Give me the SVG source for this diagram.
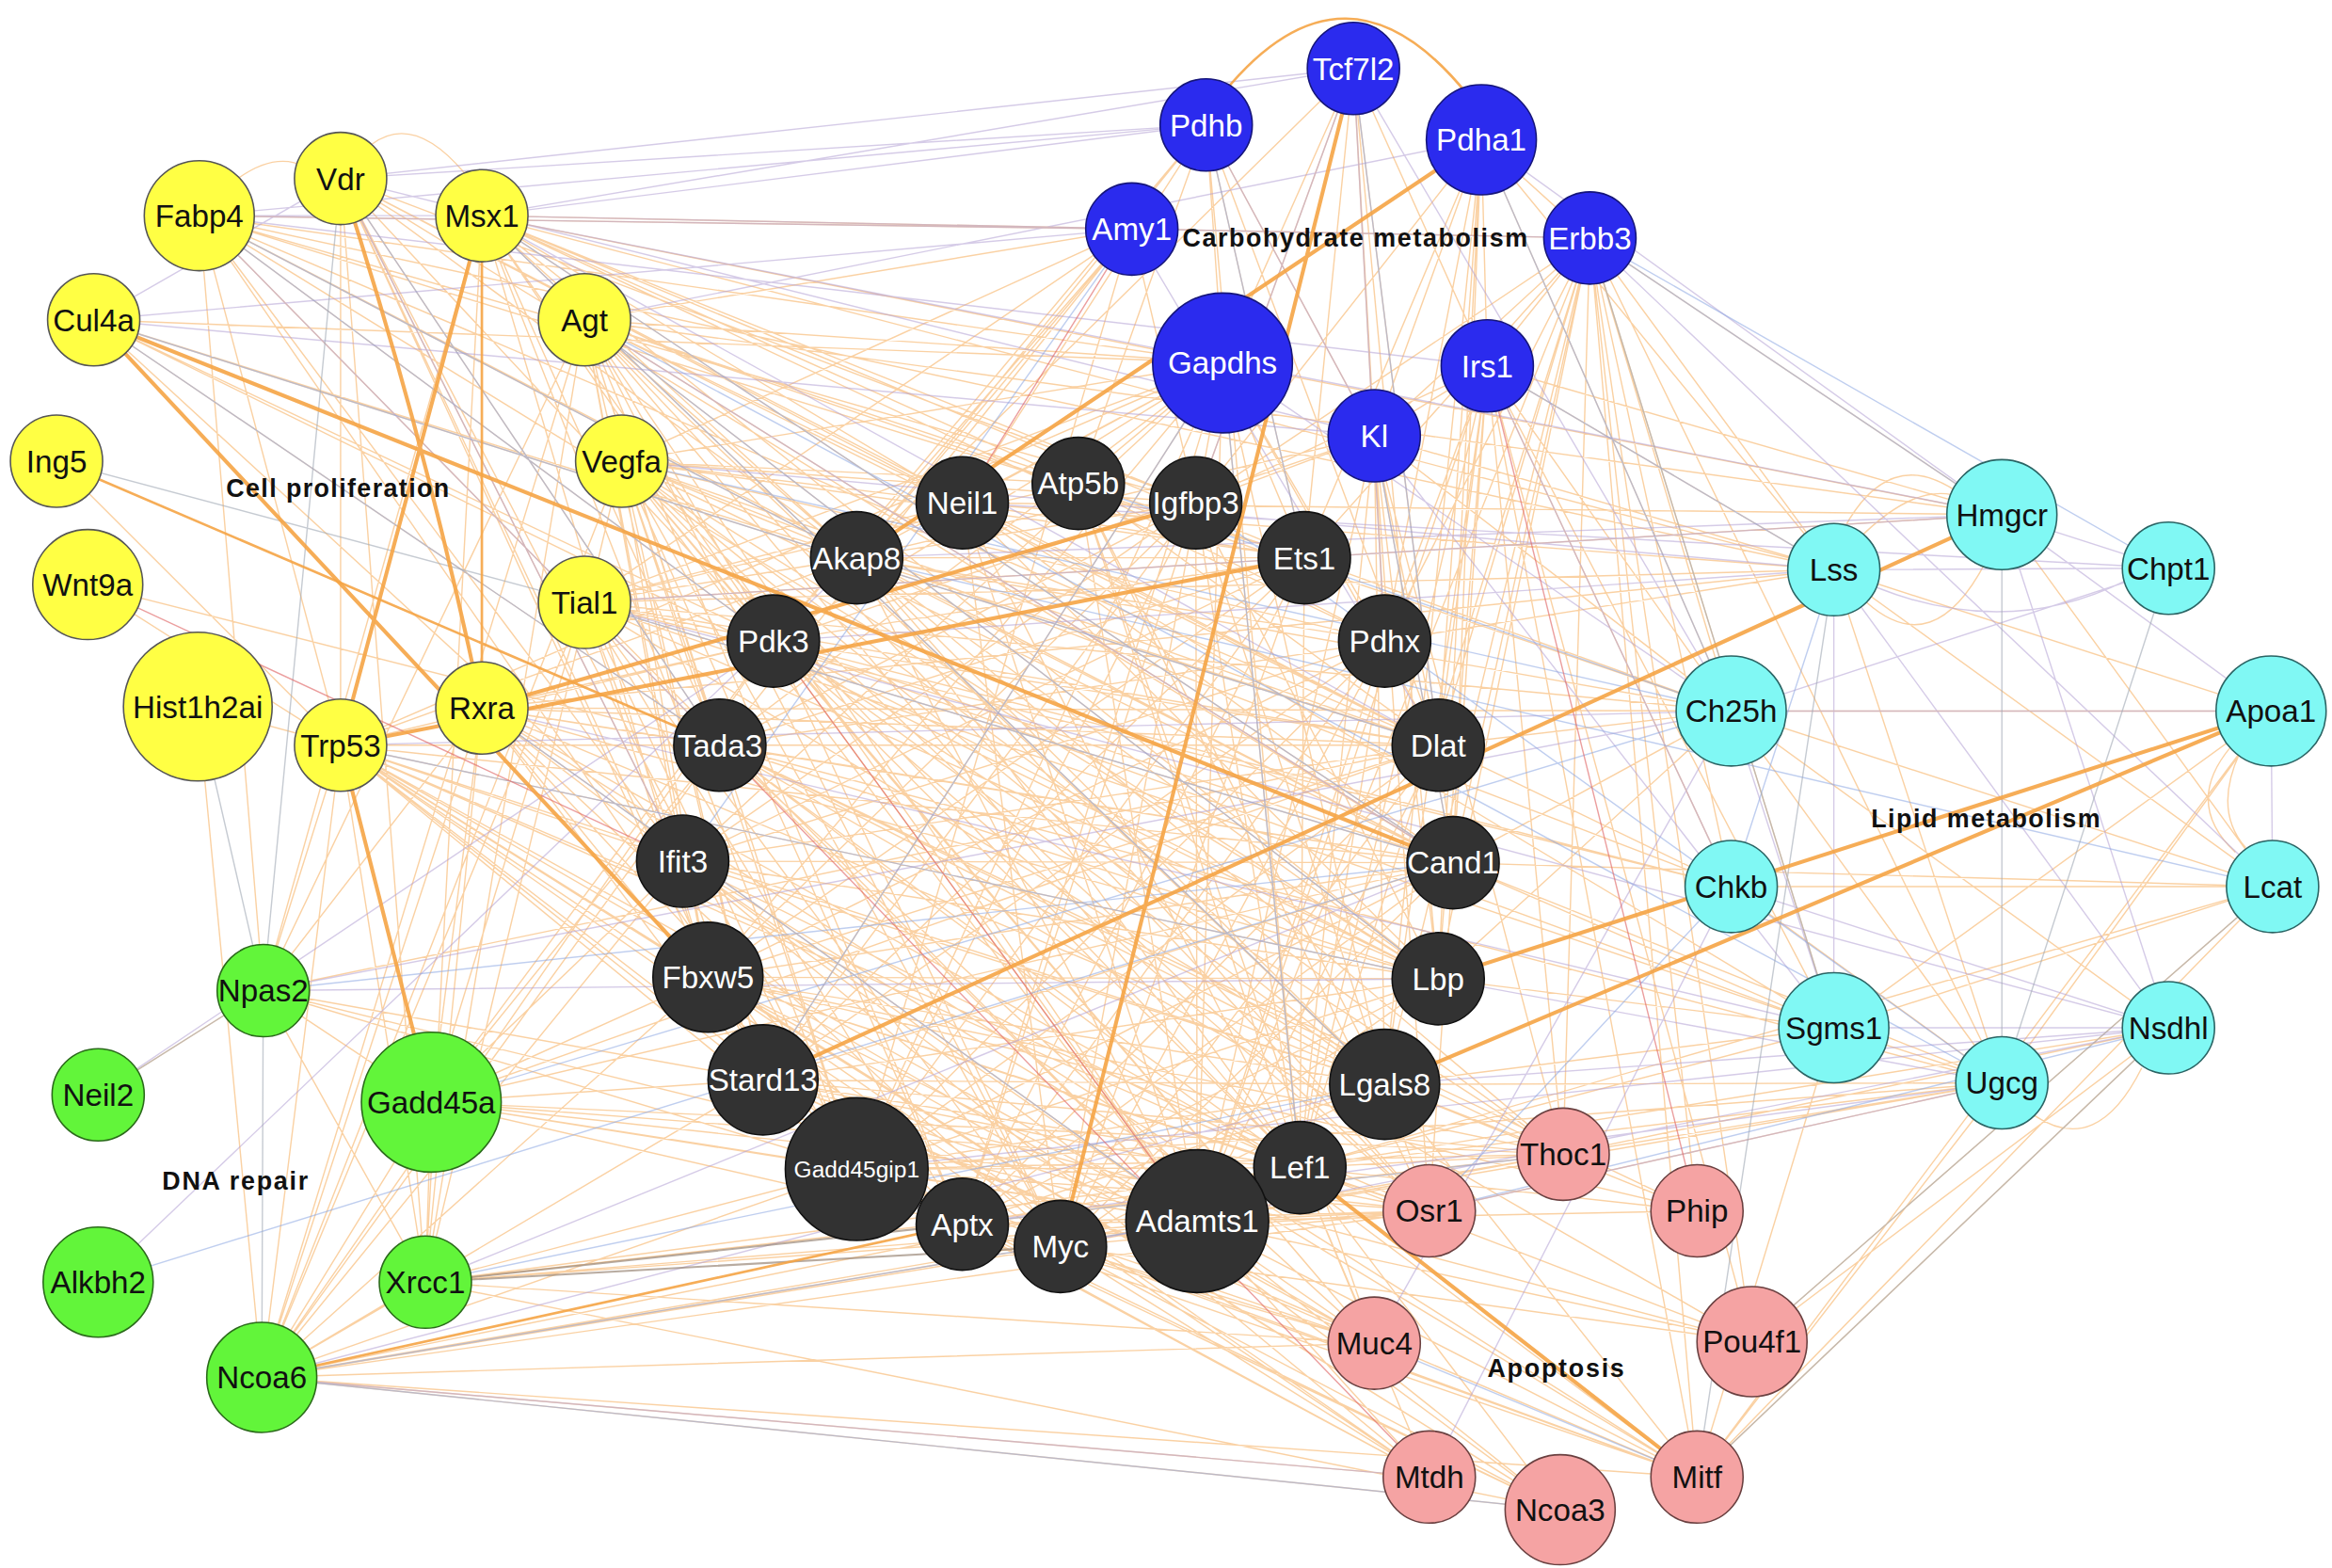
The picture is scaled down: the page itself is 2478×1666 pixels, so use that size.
<svg xmlns="http://www.w3.org/2000/svg" width="2478" height="1666" viewBox="0 0 2478 1666">
<style>
.o{stroke:#f7b266;stroke-width:0.9;fill:none;opacity:0.6}
.v{stroke:#b3a0d4;stroke-width:0.9;fill:none;opacity:0.55}
.b{stroke:#8aa6e2;stroke-width:0.9;fill:none;opacity:0.55}
.g{stroke:#a0a8b4;stroke-width:0.9;fill:none;opacity:0.6}
.d{stroke:#9a8878;stroke-width:1.3;fill:none;opacity:0.7}
.r{stroke:#e06a6a;stroke-width:0.9;fill:none;opacity:0.65}
.t{stroke:#f5a445;stroke-width:2.6;fill:none;opacity:0.9}
.m{stroke:#f5a445;stroke-width:1.7;fill:none;opacity:0.9}
.ny{fill:#ffff44;stroke:#555;stroke-width:1}
.nb{fill:#2b2bee;stroke:#15157a;stroke-width:1}
.nk{fill:#323232;stroke:#111;stroke-width:1}
.nc{fill:#80f8f4;stroke:#2a6464;stroke-width:1}
.np{fill:#f5a3a3;stroke:#6a4040;stroke-width:1}
.ng{fill:#62f53a;stroke:#2a6a1a;stroke-width:1}
text{font-family:"Liberation Sans",Arial,sans-serif;text-anchor:middle}
.lw{fill:#fff;font-size:21px}
.lb{fill:#111;font-size:21px}
.grp{fill:#111;font-size:17px;font-weight:bold}
</style>
<rect width="2478" height="1666" fill="#fff"/>
<g transform="scale(1.5804)">
<g id="connectors">
<path class="o" d="M134 145 576 375M134 145 520 431M134 145 484 501M134 145 804 338M134 145 967 501M134 145 977 580M134 145 967 658M134 145 229 501M134 145 177 666M134 145 1233 383M134 145 576 786M134 145 459 579M134 145 877 375
M229 120 520 431M229 120 576 375M229 120 647 338M229 120 484 501M229 120 459 579M229 120 476 657M229 120 229 501M229 120 286 862M229 120 576 786M229 120 513 726M229 120 977 580M229 120 967 501M229 120 804 338
M324 145 576 375M324 145 647 338M324 145 725 325M324 145 804 338M324 145 877 375M324 145 931 431M324 145 977 580M324 145 967 658M324 145 484 501M324 145 520 431M324 145 1233 383M324 145 476 657M324 145 931 729M324 145 805 821M324 145 576 786M324 145 1069 160
M63 215 520 431M63 215 484 501M63 215 576 375M63 215 459 579M63 215 967 658M63 215 967 501
M393 215 576 375M393 215 647 338M393 215 520 431M393 215 484 501M393 215 459 579M393 215 476 657M393 215 513 726M393 215 576 786M393 215 647 823M393 215 713 838M393 215 805 821M393 215 874 785M393 215 967 501M393 215 977 580M393 215 967 658M393 215 931 729M393 215 877 375M393 215 1346 346M393 215 961 814M393 215 1164 478
M38 310 229 501
M418 310 576 375M418 310 647 338M418 310 725 325M418 310 804 338M418 310 877 375M418 310 520 431M418 310 931 431M418 310 967 501M418 310 977 580M418 310 967 658M418 310 931 729M418 310 874 785M418 310 805 821M418 310 713 838M418 310 647 823M418 310 576 786M418 310 513 726M418 310 476 657M418 310 484 501M418 310 1164 596M418 310 961 814M418 310 1051 776M418 310 924 903
M59 393 229 501M59 393 484 501
M393 405 576 375M393 405 647 338M393 405 725 325M393 405 804 338M393 405 877 375M393 405 520 431M393 405 967 501M393 405 977 580M393 405 967 658M393 405 931 729M393 405 476 657M393 405 513 726M393 405 576 786M393 405 647 823M393 405 713 838M393 405 805 821M393 405 1233 383M393 405 1164 478M393 405 1164 596M393 405 1233 691
M133 475 229 501M133 475 176 926
M229 501 576 375M229 501 520 431M229 501 484 501M229 501 459 579M229 501 476 657M229 501 513 726M229 501 576 786M229 501 647 823M229 501 713 838M229 501 805 821M229 501 874 785M229 501 931 729M229 501 967 501M229 501 977 580M229 501 967 658M229 501 177 666M229 501 286 862M229 501 176 926M229 501 961 814M229 501 924 903M229 501 822 244M229 501 961 993M229 501 1049 1015
M324 476 520 431M324 476 484 501M324 476 459 579M324 476 513 726M324 476 576 786M324 476 647 823M324 476 713 838M324 476 805 821M324 476 967 501M324 476 977 580M324 476 967 658M324 476 931 729M324 476 874 785M324 476 1164 478M324 476 1233 383M324 476 177 666M324 476 290 741M324 476 286 862M324 476 176 926M324 476 1141 993
M910 46 924 293M910 46 1000 246M910 46 822 244M910 46 931 431M910 46 967 501M910 46 804 338M910 46 877 375M910 46 576 375M910 46 977 580M910 46 967 658
M811 84 822 244M811 84 725 325M811 84 647 338M811 84 576 375M811 84 520 431M811 84 877 375M811 84 924 293M811 84 967 501M811 84 874 785
M996 94 924 293M996 94 931 431M996 94 967 501M996 94 1000 246M996 94 877 375M996 94 804 338M996 94 977 580M996 94 967 658M996 94 931 729M996 94 1233 383M996 94 1164 478M996 94 1069 160
M761 154 576 375M761 154 520 431M761 154 484 501M761 154 134 145M761 154 324 145M761 154 393 215M761 154 418 310M761 154 393 405M761 154 804 338M761 154 576 786
M1069 160 1000 246M1069 160 924 293M1069 160 931 431M1069 160 967 501M1069 160 977 580M1069 160 967 658M1069 160 931 729M1069 160 874 785M1069 160 1164 478M1069 160 1164 596M1069 160 1233 383M1069 160 1346 346M1069 160 1233 691M1069 160 1346 728M1069 160 1051 776M1069 160 1141 814M1069 160 1178 902M1069 160 877 375M1069 160 804 338M1069 160 805 821M1069 160 1141 993
M822 244 576 375M822 244 647 338M822 244 725 325M822 244 520 431M822 244 484 501M822 244 459 579M822 244 476 657M822 244 513 726M822 244 576 786M822 244 647 823M822 244 713 838M822 244 805 821M822 244 874 785M822 244 931 729M822 244 967 501M822 244 931 431M822 244 877 375M822 244 324 145M822 244 393 215M822 244 418 310M822 244 393 405M822 244 134 145M822 244 63 215M822 244 1346 346
M1000 246 924 293M1000 246 931 431M1000 246 967 501M1000 246 977 580M1000 246 967 658M1000 246 931 729M1000 246 874 785M1000 246 805 821M1000 246 1164 478M1000 246 1164 596M1000 246 1233 383M1000 246 1346 346M1000 246 1233 691M1000 246 1051 776M1000 246 1141 993M1000 246 1178 902M1000 246 961 814M1000 246 804 338
M924 293 931 431M924 293 967 501M924 293 977 580M924 293 967 658M924 293 931 729M924 293 874 785M924 293 805 821M924 293 804 338M924 293 576 375M924 293 520 431M924 293 1164 478M924 293 1233 383M924 293 1051 776M924 293 961 814
M576 375 877 375M576 375 931 431M576 375 967 501M576 375 977 580M576 375 967 658M576 375 931 729M576 375 874 785M576 375 805 821M576 375 1051 776M576 375 961 814M576 375 1164 478
M647 338 877 375M647 338 967 501M647 338 977 580M647 338 967 658M647 338 874 785M647 338 805 821M647 338 713 838M647 338 1233 383M647 338 1346 346M647 338 1233 691
M725 325 931 431M725 325 967 501M725 325 931 729M725 325 874 785M725 325 805 821M725 325 961 814M725 325 924 903
M804 338 805 821M804 338 874 785M804 338 931 729M804 338 967 658M804 338 484 501M804 338 459 579M804 338 476 657M804 338 513 726M804 338 576 786M804 338 647 823
M877 375 576 786M877 375 647 823M877 375 713 838M877 375 513 726M877 375 476 657M877 375 459 579M877 375 484 501M877 375 520 431M877 375 874 785M877 375 1164 478M877 375 1346 346
M520 431 967 501M520 431 977 580M520 431 967 658M520 431 931 729M520 431 874 785M520 431 805 821M520 431 713 838M520 431 1051 776M520 431 961 814M520 431 924 903M520 431 1164 596M520 431 1233 691
M931 431 484 501M931 431 459 579M931 431 476 657M931 431 513 726M931 431 576 786M931 431 647 823M931 431 713 838M931 431 805 821M931 431 874 785M931 431 1233 383
M484 501 967 501M484 501 977 580M484 501 967 658M484 501 931 729M484 501 874 785M484 501 805 821M484 501 1141 993M484 501 1178 902M484 501 1051 776M484 501 1141 814M484 501 924 903M484 501 1346 728
M967 501 459 579M967 501 476 657M967 501 576 786M967 501 647 823M967 501 713 838M967 501 805 821M967 501 1164 478M967 501 1164 596
M459 579 977 580M459 579 967 658M459 579 931 729M459 579 874 785M459 579 805 821M459 579 961 993M459 579 1049 1015M459 579 1141 993
M977 580 476 657M977 580 513 726M977 580 576 786M977 580 647 823M977 580 713 838M977 580 1164 478M977 580 1233 691M977 580 1346 728M977 580 1528 596
M476 657 967 658M476 657 931 729M476 657 874 785M476 657 805 821M476 657 1051 776M476 657 961 814M476 657 924 903M476 657 961 993M476 657 1049 1015M476 657 1141 814
M967 658 513 726M967 658 576 786M967 658 647 823M967 658 713 838M967 658 1164 478M967 658 1233 691
M513 726 931 729M513 726 874 785M513 726 805 821M513 726 1051 776M513 726 961 814M513 726 924 903M513 726 1141 993M513 726 1178 902
M931 729 576 786M931 729 647 823M931 729 713 838M931 729 1233 691M931 729 1346 728M931 729 1051 776M931 729 961 814M931 729 1141 814M931 729 1141 993
M576 786 874 785M576 786 805 821M576 786 1051 776M576 786 961 814M576 786 924 903M576 786 961 993M576 786 1049 1015M576 786 1141 993M576 786 1346 728
M874 785 647 823M874 785 1049 1015M874 785 961 993M874 785 1178 902M874 785 1141 814M874 785 1051 776M874 785 961 814M874 785 924 903M874 785 1346 728M874 785 1458 691M874 785 1528 596M874 785 1233 691
M647 823 805 821M647 823 1051 776M647 823 961 814M647 823 924 903M647 823 961 993M647 823 1049 1015M647 823 1141 993
M713 838 1051 776M713 838 961 814M713 838 924 903M713 838 961 993M713 838 1049 1015M713 838 1141 993M713 838 1178 902
M805 821 1051 776M805 821 961 814M805 821 924 903M805 821 961 993M805 821 1049 1015M805 821 1141 993M805 821 1178 902M805 821 1141 814M805 821 1346 728
M1164 478 1527 478M1164 478 1528 596M1233 383 1527 478M1233 383 1528 596M1346 346 1528 596M1233 691 1346 728M1164 596 1346 728M1164 596 1528 596M1164 478 1346 728M1233 383 1346 728M1527 478 1346 728M1346 728 1051 776M1346 728 961 814M1346 728 1141 993M1458 691 1141 993M1458 691 1178 902M1528 596 1178 902M1528 596 1141 993M1458 691 1051 776M1527 478 1141 993M1233 691 1141 993M1527 478 1233 691M1528 596 1233 691M1164 478 1458 691
M177 666 66 736M177 666 286 862M177 666 290 741M177 666 324 145M177 666 393 215M177 666 513 726M177 666 576 786M177 666 967 501M177 666 805 821
M176 926 286 862M176 926 290 741M176 926 229 501M176 926 324 476M176 926 393 215M176 926 418 310M176 926 393 405M176 926 520 431M176 926 484 501M176 926 459 579M176 926 476 657M176 926 513 726M176 926 576 786M176 926 713 838M176 926 805 821M176 926 874 785M176 926 961 993M176 926 1049 1015M176 926 1141 993M176 926 924 903M176 926 961 814M176 926 1051 776
M286 862 290 741M286 862 324 476M286 862 393 215M286 862 418 310M286 862 324 145M286 862 805 821M286 862 576 786M286 862 874 785M286 862 1051 776M286 862 961 814M286 862 924 903M286 862 1049 1015
M290 741 484 501M290 741 459 579M290 741 476 657M290 741 513 726M290 741 576 786M290 741 647 823M290 741 805 821M290 741 874 785M290 741 1051 776M290 741 961 814M290 741 967 501M290 741 977 580M290 741 520 431M290 741 393 405
M250 97Q278 76 312 116M160 120Q185 102 205 112M1240 355Q1270 300 1315 330M1250 362Q1290 322 1320 335M1255 405Q1300 445 1335 378M1500 502Q1468 540 1503 573M1506 506Q1488 545 1510 570M1368 750Q1410 778 1440 718"/>
<path class="v" d="M324 145 910 46M324 145 811 84M134 145 811 84M229 120 811 84M63 215 761 154M324 145 1069 160M393 215 996 94M134 145 1000 246M229 120 924 293M63 215 924 293M418 310 1233 383M393 405 1346 346M324 145 1346 346M1346 346 1458 382M1233 383 1458 382M1164 478 1527 478M1346 346 1527 478M1527 478 1528 596M1233 691 1458 691M1164 596 1458 691M967 658 1346 728M931 729 1458 691M520 431 1233 383M576 375 1346 346M647 338 1458 382M910 46 804 338M910 46 931 431M811 84 924 293M761 154 967 501M1069 160 1528 596M1000 246 1164 596M924 293 1233 691M66 736 520 431M177 666 967 658M66 862 576 375M176 926 931 729M286 862 977 580M576 786 1458 691M647 823 1346 728M713 838 1458 691M961 993 1164 596M924 903 1164 478M961 814 1346 728M134 145 484 501M229 120 459 579M324 145 967 501M393 215 977 580M229 501 1164 478M324 476 1233 691M393 405 1458 691M822 244 1164 478M996 94 1346 346M910 46 1164 478M1164 478 1233 691M1233 383 1458 691M1346 346 1458 691M1458 382 1164 478M1233 383 1233 691M177 666 1164 478M176 926 961 993M134 145 324 145M63 215 229 120M229 120 910 46M134 145 761 154M1262 395Q1350 430 1430 390"/>
<path class="b" d="M134 145 576 375M134 145 520 431M229 120 484 501M324 145 977 580M63 215 967 501M393 215 967 658M393 405 977 580M229 501 967 658M324 476 805 821M822 244 874 785M1069 160 1346 346M1000 246 1233 383M811 84 877 375M924 293 977 580M804 338 1346 728M725 325 1164 478M66 862 977 580M177 666 977 580M176 926 805 821M286 862 931 729M1164 596 961 814M996 94 1164 478M910 46 967 501M576 375 1528 596M961 814 1458 691M1051 776 647 823M63 215 484 501M324 145 931 729M393 215 1346 728M418 310 1164 478M822 244 513 726M761 154 459 579M1069 160 1458 382M1233 383 1164 596M290 741 1164 478M176 926 1049 1015M924 903 1141 993"/>
<path class="g" d="M133 475 177 666M38 310 393 405M177 666 176 926M1069 160 1233 691M1346 346 1346 728M1233 383 1141 993M1458 382 1346 728M1178 902 1528 596M66 736 177 666M229 120 177 666M1458 691 1141 993"/>
<path class="d" d="M286 862 713 838M286 862 647 823"/>
<path class="r" d="M761 154 647 338M59 393 459 579M1000 246 1141 814M520 431 805 821M484 501 961 993"/>
<path class="m" d="M38 310 484 501M324 145 324 476M176 926 647 823M823 62Q905 -38 987 64"/>
<path class="t" d="M63 215 476 657M63 215 977 580M229 120Q285 290 324 476M324 145 229 501M229 501 290 741M324 476 804 338M229 501 877 375M910 46 713 838M996 94 576 375M513 726 1346 346M967 658 1527 478M931 729 1527 478M874 785 1141 993"/>
</g>
<g id="node-Fabp4"><circle class="ny" cx="134" cy="145" r="37"/><text class="lb" x="134" y="152.5">Fabp4</text></g>
<g id="node-Vdr"><circle class="ny" cx="229" cy="120" r="31"/><text class="lb" x="229" y="127.5">Vdr</text></g>
<g id="node-Msx1"><circle class="ny" cx="324" cy="145" r="31"/><text class="lb" x="324" y="152.5">Msx1</text></g>
<g id="node-Cul4a"><circle class="ny" cx="63" cy="215" r="31"/><text class="lb" x="63" y="222.5">Cul4a</text></g>
<g id="node-Agt"><circle class="ny" cx="393" cy="215" r="31"/><text class="lb" x="393" y="222.5">Agt</text></g>
<g id="node-Ing5"><circle class="ny" cx="38" cy="310" r="31"/><text class="lb" x="38" y="317.5">Ing5</text></g>
<g id="node-Vegfa"><circle class="ny" cx="418" cy="310" r="31"/><text class="lb" x="418" y="317.5">Vegfa</text></g>
<g id="node-Wnt9a"><circle class="ny" cx="59" cy="393" r="37"/><text class="lb" x="59" y="400.5">Wnt9a</text></g>
<g id="node-Tial1"><circle class="ny" cx="393" cy="405" r="31"/><text class="lb" x="393" y="412.5">Tial1</text></g>
<g id="node-Hist1h2ai"><circle class="ny" cx="133" cy="475" r="50"/><text class="lb" x="133" y="482.5">Hist1h2ai</text></g>
<g id="node-Trp53"><circle class="ny" cx="229" cy="501" r="31"/><text class="lb" x="229" y="508.5">Trp53</text></g>
<g id="node-Rxra"><circle class="ny" cx="324" cy="476" r="31"/><text class="lb" x="324" y="483.5">Rxra</text></g>
<g id="node-Tcf7l2"><circle class="nb" cx="910" cy="46" r="31"/><text class="lw" x="910" y="53.5">Tcf7l2</text></g>
<g id="node-Pdhb"><circle class="nb" cx="811" cy="84" r="31"/><text class="lw" x="811" y="91.5">Pdhb</text></g>
<g id="node-Pdha1"><circle class="nb" cx="996" cy="94" r="37"/><text class="lw" x="996" y="101.5">Pdha1</text></g>
<g id="node-Amy1"><circle class="nb" cx="761" cy="154" r="31"/><text class="lw" x="761" y="161.5">Amy1</text></g>
<g id="node-Erbb3"><circle class="nb" cx="1069" cy="160" r="31"/><text class="lw" x="1069" y="167.5">Erbb3</text></g>
<g id="node-Gapdhs"><circle class="nb" cx="822" cy="244" r="47"/><text class="lw" x="822" y="251.5">Gapdhs</text></g>
<g id="node-Irs1"><circle class="nb" cx="1000" cy="246" r="31"/><text class="lw" x="1000" y="253.5">Irs1</text></g>
<g id="node-Kl"><circle class="nb" cx="924" cy="293" r="31"/><text class="lw" x="924" y="300.5">Kl</text></g>
<g id="node-Neil1"><circle class="nk" cx="647" cy="338" r="31"/><text class="lw" x="647" y="345.5">Neil1</text></g>
<g id="node-Atp5b"><circle class="nk" cx="725" cy="325" r="31"/><text class="lw" x="725" y="332.5">Atp5b</text></g>
<g id="node-Igfbp3"><circle class="nk" cx="804" cy="338" r="31"/><text class="lw" x="804" y="345.5">Igfbp3</text></g>
<g id="node-Akap8"><circle class="nk" cx="576" cy="375" r="31"/><text class="lw" x="576" y="382.5">Akap8</text></g>
<g id="node-Ets1"><circle class="nk" cx="877" cy="375" r="31"/><text class="lw" x="877" y="382.5">Ets1</text></g>
<g id="node-Pdk3"><circle class="nk" cx="520" cy="431" r="31"/><text class="lw" x="520" y="438.5">Pdk3</text></g>
<g id="node-Pdhx"><circle class="nk" cx="931" cy="431" r="31"/><text class="lw" x="931" y="438.5">Pdhx</text></g>
<g id="node-Tada3"><circle class="nk" cx="484" cy="501" r="31"/><text class="lw" x="484" y="508.5">Tada3</text></g>
<g id="node-Dlat"><circle class="nk" cx="967" cy="501" r="31"/><text class="lw" x="967" y="508.5">Dlat</text></g>
<g id="node-Ifit3"><circle class="nk" cx="459" cy="579" r="31"/><text class="lw" x="459" y="586.5">Ifit3</text></g>
<g id="node-Cand1"><circle class="nk" cx="977" cy="580" r="31"/><text class="lw" x="977" y="587.5">Cand1</text></g>
<g id="node-Fbxw5"><circle class="nk" cx="476" cy="657" r="37"/><text class="lw" x="476" y="664.5">Fbxw5</text></g>
<g id="node-Lbp"><circle class="nk" cx="967" cy="658" r="31"/><text class="lw" x="967" y="665.5">Lbp</text></g>
<g id="node-Stard13"><circle class="nk" cx="513" cy="726" r="37"/><text class="lw" x="513" y="733.5">Stard13</text></g>
<g id="node-Lgals8"><circle class="nk" cx="931" cy="729" r="37"/><text class="lw" x="931" y="736.5">Lgals8</text></g>
<g id="node-Gadd45gip1"><circle class="nk" cx="576" cy="786" r="48"/><text class="lw" x="576" y="791.5" style="font-size:15.5px">Gadd45gip1</text></g>
<g id="node-Lef1"><circle class="nk" cx="874" cy="785" r="31"/><text class="lw" x="874" y="792.5">Lef1</text></g>
<g id="node-Aptx"><circle class="nk" cx="647" cy="823" r="31"/><text class="lw" x="647" y="830.5">Aptx</text></g>
<g id="node-Myc"><circle class="nk" cx="713" cy="838" r="31"/><text class="lw" x="713" y="845.5">Myc</text></g>
<g id="node-Adamts1"><circle class="nk" cx="805" cy="821" r="48"/><text class="lw" x="805" y="828.5">Adamts1</text></g>
<g id="node-Hmgcr"><circle class="nc" cx="1346" cy="346" r="37"/><text class="lb" x="1346" y="353.5">Hmgcr</text></g>
<g id="node-Lss"><circle class="nc" cx="1233" cy="383" r="31"/><text class="lb" x="1233" y="390.5">Lss</text></g>
<g id="node-Chpt1"><circle class="nc" cx="1458" cy="382" r="31"/><text class="lb" x="1458" y="389.5">Chpt1</text></g>
<g id="node-Ch25h"><circle class="nc" cx="1164" cy="478" r="37"/><text class="lb" x="1164" y="485.5">Ch25h</text></g>
<g id="node-Apoa1"><circle class="nc" cx="1527" cy="478" r="37"/><text class="lb" x="1527" y="485.5">Apoa1</text></g>
<g id="node-Chkb"><circle class="nc" cx="1164" cy="596" r="31"/><text class="lb" x="1164" y="603.5">Chkb</text></g>
<g id="node-Lcat"><circle class="nc" cx="1528" cy="596" r="31"/><text class="lb" x="1528" y="603.5">Lcat</text></g>
<g id="node-Sgms1"><circle class="nc" cx="1233" cy="691" r="37"/><text class="lb" x="1233" y="698.5">Sgms1</text></g>
<g id="node-Nsdhl"><circle class="nc" cx="1458" cy="691" r="31"/><text class="lb" x="1458" y="698.5">Nsdhl</text></g>
<g id="node-Ugcg"><circle class="nc" cx="1346" cy="728" r="31"/><text class="lb" x="1346" y="735.5">Ugcg</text></g>
<g id="node-Thoc1"><circle class="np" cx="1051" cy="776" r="31"/><text class="lb" x="1051" y="783.5">Thoc1</text></g>
<g id="node-Osr1"><circle class="np" cx="961" cy="814" r="31"/><text class="lb" x="961" y="821.5">Osr1</text></g>
<g id="node-Phip"><circle class="np" cx="1141" cy="814" r="31"/><text class="lb" x="1141" y="821.5">Phip</text></g>
<g id="node-Muc4"><circle class="np" cx="924" cy="903" r="31"/><text class="lb" x="924" y="910.5">Muc4</text></g>
<g id="node-Pou4f1"><circle class="np" cx="1178" cy="902" r="37"/><text class="lb" x="1178" y="909.5">Pou4f1</text></g>
<g id="node-Mtdh"><circle class="np" cx="961" cy="993" r="31"/><text class="lb" x="961" y="1000.5">Mtdh</text></g>
<g id="node-Ncoa3"><circle class="np" cx="1049" cy="1015" r="37"/><text class="lb" x="1049" y="1022.5">Ncoa3</text></g>
<g id="node-Mitf"><circle class="np" cx="1141" cy="993" r="31"/><text class="lb" x="1141" y="1000.5">Mitf</text></g>
<g id="node-Npas2"><circle class="ng" cx="177" cy="666" r="31"/><text class="lb" x="177" y="673.5">Npas2</text></g>
<g id="node-Neil2"><circle class="ng" cx="66" cy="736" r="31"/><text class="lb" x="66" y="743.5">Neil2</text></g>
<g id="node-Gadd45a"><circle class="ng" cx="290" cy="741" r="47"/><text class="lb" x="290" y="748.5">Gadd45a</text></g>
<g id="node-Alkbh2"><circle class="ng" cx="66" cy="862" r="37"/><text class="lb" x="66" y="869.5">Alkbh2</text></g>
<g id="node-Xrcc1"><circle class="ng" cx="286" cy="862" r="31"/><text class="lb" x="286" y="869.5">Xrcc1</text></g>
<g id="node-Ncoa6"><circle class="ng" cx="176" cy="926" r="37"/><text class="lb" x="176" y="933.5">Ncoa6</text></g>
<g id="labels">
<text class="grp" x="911" y="166" textLength="232">Carbohydrate metabolism</text>
<text class="grp" x="227" y="334" textLength="150">Cell proliferation</text>
<text class="grp" x="1335" y="556" textLength="154">Lipid metabolism</text>
<text class="grp" x="158" y="800" textLength="98">DNA repair</text>
<text class="grp" x="1046" y="926" textLength="92">Apoptosis</text>
</g>
</g>
</svg>
